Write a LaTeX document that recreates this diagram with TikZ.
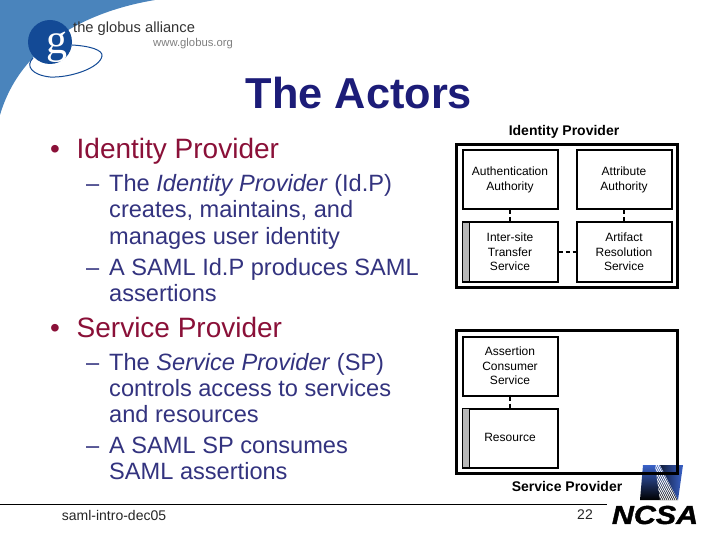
\documentclass[tikz,border=0pt]{standalone}
\usepackage{fontspec}
\setmainfont{Liberation Sans}
\newfontfamily\ncsafont[FakeStretch=1.17,FakeBold=1.5]{Liberation Sans Bold Italic}
\newfontfamily\gfont{Liberation Serif}
\definecolor{swoosh}{HTML}{4A84BC}
\definecolor{gblue}{HTML}{134A96}
\definecolor{titleblue}{HTML}{1C1C78}
\definecolor{bodytext}{HTML}{33337F}
\definecolor{bullettext}{HTML}{8A1038}
\definecolor{strip}{HTML}{B8B8B8}
\definecolor{logoblue}{HTML}{3A62C8}
\tikzset{
  outerbox/.style={draw=black,line width=3pt,minimum width=221pt,minimum height=143pt,inner sep=0pt},
  innerbox/.style={draw=black,line width=2pt,fill=white,minimum width=95pt,minimum height=59pt,inner sep=0pt,align=center,font=\fontsize{12}{14.7}\selectfont},
  boxlabel/.style={inner sep=0pt,align=center,font=\fontsize{12}{14.7}\selectfont},
  link/.style={line width=2pt,dash pattern=on 4pt off 3pt},
  striprect/.style={fill=strip,draw=none},
  stripline/.style={draw=black,line width=1.5pt},
  heading/.style={font=\bfseries\fontsize{14}{16}\selectfont,inner sep=0pt},
  bulletmark/.style={anchor=base west,inner sep=0pt,text=bullettext,font=\fontsize{28}{30}\selectfont},
  bulletline/.style={anchor=base west,inner sep=0pt,text=bullettext,font=\fontsize{28}{30}\selectfont},
  subline/.style={anchor=base west,inner sep=0pt,text=bodytext,font=\fontsize{23.6}{26}\selectfont},
  footer/.style={inner sep=0pt,text=black!85,font=\fontsize{14}{16}\selectfont},
}
\begin{document}
\begin{tikzpicture}[x=1pt,y=-1pt]
\useasboundingbox (0,0) rectangle (720,540);
\fill[white] (0,0) rectangle (720,540);
% globus swoosh
\fill[swoosh] (0,0) -- (155,0) .. controls (95,10) and (22,40) .. (0,115) -- cycle;
\fill[gblue] (50,42) circle (22);
\node[inner sep=0pt,text=white,font=\gfont\fontsize{42}{42}\selectfont] (g) at (57,47) {g};
\draw[gblue,line width=1pt] (72,45) .. controls (90,46) and (103,50) .. (102,56) .. controls (100,68) and (70,78) .. (50,77) .. controls (32,75) and (25,66) .. (33,58);
\node[anchor=base west,inner sep=0pt,font=\fontsize{14.7}{16}\selectfont,text=black!80] (ga) at (73,33) {the globus alliance};
\node[anchor=base west,inner sep=0pt,font=\fontsize{11.3}{12}\selectfont,text=black!50] (gu) at (153,47) {www.globus.org};
% title
\node[inner sep=0pt,text=titleblue,font=\bfseries\fontsize{43.3}{45}\selectfont] (title) at (359,93) {The Actors};
% left text
\node[bulletmark] (b1m) at (50,159) {•};
\node[bulletline] (b1) at (76.5,159) {Identity Provider};
\node[subline] (s1d) at (86,192) {–};
\node[subline] (s1a) at (109,192) {The \emph{Identity Provider} (Id.P)};
\node[subline] (s1b) at (109,218) {creates, maintains, and};
\node[subline] (s1c) at (109,244) {manages user identity};
\node[subline] (s2d) at (86,275) {–};
\node[subline] (s2a) at (109,275) {A SAML Id.P produces SAML};
\node[subline] (s2b) at (109,301) {assertions};
\node[bulletmark] (b2m) at (50,337) {•};
\node[bulletline] (b2) at (76.5,337) {Service Provider};
\node[subline] (s3d) at (86,370) {–};
\node[subline] (s3a) at (109,370) {The \emph{Service Provider} (SP)};
\node[subline] (s3b) at (109,396) {controls access to services};
\node[subline] (s3c) at (109,422) {and resources};
\node[subline] (s4d) at (86,453) {–};
\node[subline] (s4a) at (109,453) {A SAML SP consumes};
\node[subline] (s4b) at (109,479) {SAML assertions};
% NCSA logo
\shade[bottom color=black,top color=logoblue] (643,465) -- (655,465) -- (660,500) -- (640,500) -- cycle;
\begin{scope}
\clip (655,465) -- (660,465) -- (678,500) -- (660,500) -- cycle;
\shade[bottom color=black,top color=logoblue] (650,465) rectangle (680,500);
\foreach \k in {0,...,22} {\draw[white,line width=0.9pt] (640+2*\k,465) -- (658+2*\k,500);}
\end{scope}
\shade[left color=black!70!logoblue,right color=logoblue] (660,465) -- (683,465) -- (678,500) -- cycle;
\node[inner sep=0pt,font=\ncsafont\fontsize{26}{28}\selectfont] (ncsa) at (655,515) {NCSA};
% footer
\coordinate (fl) at (0,504);
\coordinate (fr) at (607,504);
\draw[black,line width=0.8pt] (fl) -- (fr);
\node[footer] (foot) at (114,515) {saml-intro-dec05};
\node[footer] (pg) at (585,515) {22};
% identity provider diagram
\node[heading] (idp) at (564,132) {Identity Provider};
\node[outerbox] (idpbox) at (566.5,216) {};
\node[innerbox] (authn) at (510,179.5) {};
\node[boxlabel] (authnt) at (510,180) {Authentication\\Authority};
\node[innerbox] (attr) at (624,179.5) {};
\node[boxlabel] (attrt) at (624,180) {Attribute\\Authority};
\node[innerbox] (its) at (510,252) {};
\fill[striprect] (463,223) rectangle (469,281);
\draw[stripline] (469.5,223) -- (469.5,281);
\node[boxlabel] (itst) at (510,252) {Inter-site\\Transfer\\Service};
\node[innerbox] (ars) at (624,252) {Artifact\\Resolution\\Service};
\draw[link] (authn) -- (its);
\draw[link] (attr) -- (ars);
\draw[link] (its) -- (ars);
% service provider diagram
\node[outerbox] (spbox) at (566.5,402) {};
\node[innerbox] (acs) at (510,366) {Assertion\\Consumer\\Service};
\node[innerbox] (res) at (510,438) {};
\fill[striprect] (463,409) rectangle (469,467);
\draw[stripline] (469.5,409) -- (469.5,467);
\node[boxlabel] (rest) at (510,437.5) {Resource};
\draw[link] (acs) -- (res);
\node[heading] (sp) at (567,486) {Service Provider};
\end{tikzpicture}
\end{document}
